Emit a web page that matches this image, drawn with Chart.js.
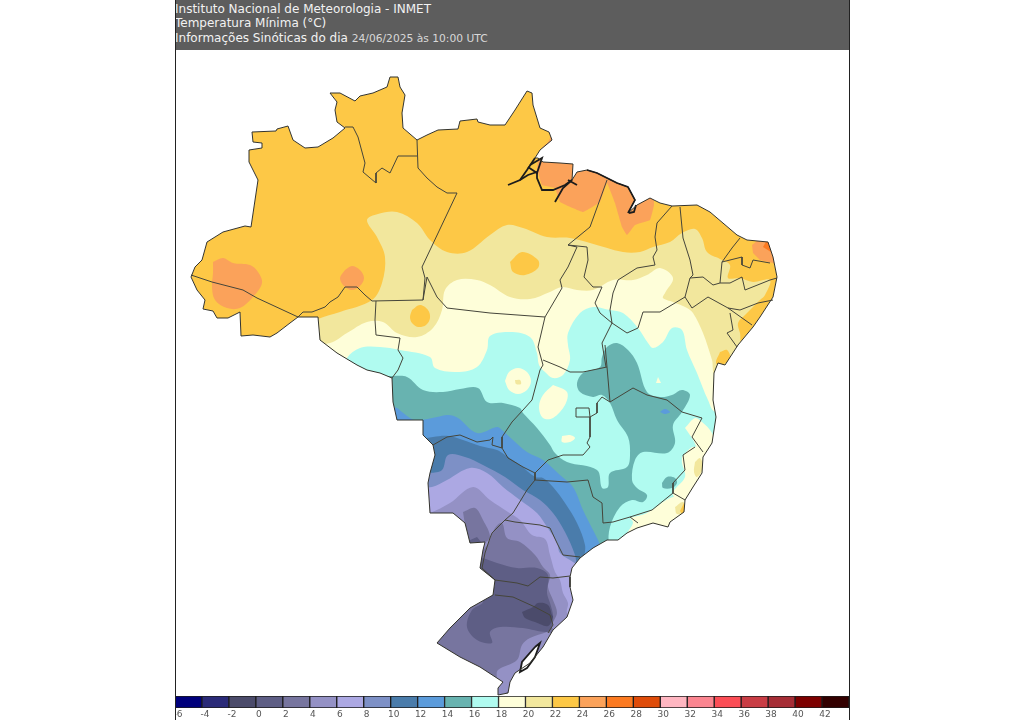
<!DOCTYPE html>
<html lang="pt"><head><meta charset="utf-8">
<script src="https://cdn.jsdelivr.net/npm/chart.js@4"></script>
<style>
html,body{margin:0;padding:0;background:#fff;width:1024px;height:720px;overflow:hidden}
#frame{position:absolute;left:175px;top:-1px;width:673px;height:720px;border:1px solid #222;box-sizing:content-box}
#head{position:absolute;left:175px;top:0;width:674px;height:50px;background:#5d5d5d;color:#f2f2f2;font:12px "DejaVu Sans",sans-serif}
#head div{position:absolute;left:0;white-space:nowrap;line-height:14px}
#head span{color:#d8d8d8;font-size:10.7px}
#map{position:absolute;left:175px;top:50px;filter:blur(.45px)}
#bar{position:absolute;left:175px;top:696px}
</style></head><body>
<div id="head">
<div style="top:2px">Instituto Nacional de Meteorologia - INMET</div>
<div style="top:16px">Temperatura Mínima (°C)</div>
<div style="top:31px">Informações Sinóticas do dia <span>24/06/2025 às 10:00 UTC</span></div>
</div>
<canvas id="map" width="674" height="646"></canvas>
<canvas id="bar" width="674" height="24"></canvas>
<div id="frame"></div>
<script>
// Scale of the colour bar
const scaleBins=[-6,-4,-2,0,2,4,6,8,10,12,14,16,18,20,22,24,26,28,30,32,34,36,38,40,42];
const scaleColors=['#00007c','#2a2a78','#4b4b6b','#5e5e85','#77759f','#9491c5','#aca8e3','#7d90c6','#4a7cab','#5b9bdb','#68b3b0','#b0fbf0','#fefed9','#f2e79d','#fdc846','#fba25a','#fc7a21','#df4c0a','#ffb6c1','#fb8590','#fc4d56','#c93d45','#a62d36','#7d0000','#330000'];
const colorOf=v=>scaleColors[scaleBins.indexOf(v)];

// Map grid coordinates (map sheet units)
const brazil=[[252,132],[276,131],[277,129],[288,126],[293,140],[305,148],[318,147],[333,138],[345,128],[337,122],[335,110],[337,102],[330,93],[340,93],[355,101],[360,96],[373,93],[387,87],[390,77],[398,77],[400,87],[405,95],[402,113],[403,128],[417,140],[427,135],[438,130],[458,129],[460,121],[477,119],[478,122],[490,125],[505,125],[515,110],[527,91],[532,93],[533,105],[540,128],[549,132],[552,140],[540,150],[535,158],[538,158],[543,162],[560,163],[573,164],[572,180],[577,172],[587,170],[597,173],[607,178],[617,183],[628,187],[635,200],[628,213],[637,205],[650,198],[660,203],[672,206],[697,205],[710,212],[737,235],[747,240],[768,242],[773,257],[777,277],[773,297],[760,317],[753,327],[738,345],[725,365],[718,363],[714,373],[713,400],[716,417],[712,443],[703,457],[702,473],[693,487],[685,500],[684,512],[670,522],[668,527],[653,523],[637,528],[627,533],[618,540],[607,540],[593,548],[580,558],[572,568],[570,577],[570,587],[573,600],[567,617],[553,630],[543,647],[530,663],[515,673],[510,682],[508,693],[498,695],[498,688],[503,682],[480,667],[460,657],[437,643],[450,628],[470,608],[493,595],[495,580],[480,568],[483,550],[485,542],[470,543],[465,523],[453,513],[430,513],[428,483],[430,473],[435,455],[433,445],[423,435],[423,420],[397,420],[393,402],[392,378],[380,373],[367,370],[357,365],[337,353],[320,340],[318,317],[298,317],[290,323],[277,333],[270,337],[253,335],[241,336],[240,312],[228,318],[217,318],[213,311],[203,309],[205,300],[197,290],[191,277],[195,267],[202,260],[207,242],[223,232],[245,226],[251,227],[258,180],[249,162],[249,150],[262,148],[262,143],[253,142]];

const band20=[[300,330],[318,319],[340,312],[372,300],[382,283],[385,257],[377,237],[367,220],[378,214],[397,212],[417,223],[430,240],[447,252],[467,252],[490,235],[507,225],[523,228],[547,237],[570,238],[590,243],[623,252],[640,252],[653,247],[670,242],[682,233],[695,229],[702,238],[707,252],[720,259],[730,265],[728,278],[740,278],[753,282],[770,280],[765,295],[760,300],[745,315],[738,323],[740,333],[743,346],[800,360],[849,400],[849,696],[175,696],[175,400],[300,400]];
const band18=[[300,345],[330,343],[347,333],[367,322],[383,322],[397,333],[417,337],[433,328],[442,310],[445,290],[457,280],[477,280],[490,285],[510,297],[530,299],[550,292],[562,287],[577,290],[593,290],[613,280],[633,280],[647,275],[660,268],[673,278],[665,293],[663,298],[673,302],[687,308],[693,313],[703,333],[712,360],[716,375],[800,380],[849,400],[849,696],[175,696],[175,400],[300,400]];
const band16=[[340,380],[347,358],[360,348],[380,347],[400,350],[430,357],[435,368],[457,372],[477,367],[487,350],[490,336],[510,332],[530,337],[537,353],[539,365],[545,372],[553,378],[563,375],[570,360],[568,345],[568,333],[580,313],[593,307],[610,310],[623,313],[638,328],[648,343],[653,348],[663,342],[672,328],[682,330],[687,350],[697,373],[708,400],[716,412],[849,420],[849,696],[175,696],[175,380]];
const band14=[[385,376],[392,376],[407,377],[423,390],[443,392],[460,389],[478,388],[487,402],[503,403],[520,408],[523,413],[537,428],[550,445],[555,453],[567,462],[597,470],[602,488],[608,487],[610,473],[627,467],[630,455],[628,437],[617,420],[610,403],[602,395],[593,397],[580,392],[577,383],[583,373],[600,367],[602,357],[607,347],[617,343],[628,350],[637,363],[647,392],[660,397],[672,395],[682,390],[690,395],[682,412],[673,425],[675,443],[667,453],[643,452],[635,460],[632,480],[637,488],[647,495],[643,502],[632,500],[620,507],[610,527],[609,545],[620,600],[620,696],[175,696],[175,376]];
const band12=[[385,405],[397,408],[402,412],[415,420],[437,417],[448,415],[458,418],[477,433],[497,427],[502,430],[513,440],[527,452],[543,460],[560,475],[573,487],[583,510],[593,530],[600,545],[615,600],[615,696],[175,696],[175,405]];
const band10=[[415,440],[433,437],[448,436],[463,440],[480,446],[497,450],[505,455],[520,465],[535,477],[543,478],[553,487],[565,503],[577,523],[585,545],[585,560],[600,600],[600,696],[175,696],[175,440]];
const band8=[[420,473],[430,473],[442,470],[448,455],[465,457],[483,465],[505,477],[523,490],[540,500],[553,513],[565,532],[575,555],[578,570],[600,600],[600,696],[175,696],[175,473]];
const band6=[[420,487],[432,487],[447,480],[470,468],[487,473],[503,487],[520,500],[537,513],[547,527],[557,543],[560,553],[573,562],[590,575],[600,600],[600,696],[175,696],[175,487]];
const band4=[[420,515],[430,513],[450,503],[473,487],[490,500],[508,512],[520,520],[532,535],[545,539],[550,555],[555,572],[560,580],[563,593],[568,603],[567,613],[575,625],[600,640],[600,696],[175,696],[175,515]];
const band2=[[470,555],[485,548],[495,528],[502,523],[507,538],[520,542],[535,555],[543,567],[550,575],[548,587],[553,600],[557,613],[552,628],[580,640],[580,696],[175,696],[175,560]];
const band0=[[483,558],[497,563],[517,568],[537,568],[548,575],[547,593],[550,603],[553,615],[552,627],[547,632],[523,628],[500,627],[490,632],[492,643],[477,640],[467,627],[472,610],[483,602],[478,590],[470,570]];
const bandM2=[[522,612],[533,607],[538,603],[548,605],[552,615],[553,617],[548,626],[535,622],[525,618]];

// Warm and cold islands
const acre24=[[213,262],[223,258],[233,263],[250,265],[258,272],[262,283],[253,297],[240,308],[227,308],[215,300],[212,287],[213,273]];
const rondonia24=[[345,270],[352,266],[360,270],[364,278],[360,286],[352,290],[344,286],[340,278]];
const northCoast24=[[537,168],[542,185],[555,188],[560,202],[583,212],[600,202],[607,183],[615,203],[622,227],[627,235],[635,225],[650,220],[654,205],[653,190],[600,140],[552,135],[548,142],[540,150]];
const natal24=[[752,245],[757,241],[780,240],[780,268],[773,263],[760,260],[753,253]];
const natal26=[[763,247],[767,240],[774,240],[771,252]];
const para22=[[510,262],[522,252],[538,260],[538,268],[525,275],[513,272]];
const rondon22=[[412,310],[420,305],[428,310],[430,318],[426,325],[418,327],[412,323],[410,317]];
const piaui22=[[682,290],[688,288],[687,295],[682,294]];
const bahia22=[[720,352],[727,350],[730,358],[722,365],[716,363]];
const goias18a=[[505,381],[509,372],[518,368],[527,372],[531,381],[527,390],[518,394],[509,390]];
const goias18b=[[553,385],[567,392],[565,405],[553,418],[543,418],[539,407],[543,395]];
const goias18c=[[562,436],[570,435],[575,438],[570,442],[562,442]];
const goias20=[[515,380],[520,380],[521,384],[516,384]];
const minas18=[[656,383],[658,377],[661,383]];
const espirito18=[[685,428],[695,418],[702,422],[712,433],[714,445],[703,456],[692,438]];
const coastMg18=[[682,457],[693,447],[706,452],[704,473],[687,503],[675,498],[673,492],[685,477],[682,463]];
const coastRj18=[[630,518],[647,513],[673,497],[690,500],[688,515],[672,530],[653,530],[637,532],[625,537],[633,523]];
const coast20a=[[695,462],[700,458],[703,468],[697,477],[694,472]];
const coast20b=[[675,507],[683,502],[688,512],[677,514]];
const coast22=[[680,511],[684,503],[688,512],[682,514]];
const triangulo14=[[662,483],[667,477],[675,478],[677,483],[672,488],[663,488]];
const minas12=[[660,412],[665,409],[670,412],[665,414]];
const paraguai2=[[463,512],[475,508],[483,520],[490,537],[483,543],[468,544],[465,525]];
const paraguai0=[[468,541],[477,537],[481,542],[470,544]];
const gaucho4=[[547,632],[530,638],[522,645],[517,660],[498,670],[497,678],[500,696],[570,640]];
const patos=[[535,647],[540,643],[535,657],[527,668],[520,672],[522,662]];

// State borders
const borders=[
[[191,275],[212,282],[243,290],[257,298],[298,317],[303,312],[312,312],[325,307],[330,302],[338,297],[345,287],[357,287],[365,295],[372,301],[423,300],[425,278],[422,267],[457,193],[447,193],[437,187],[427,178],[418,168],[417,140]],
[[417,156],[398,156],[390,173],[382,168],[376,173],[376,183],[363,172],[365,163],[358,137],[353,127],[345,127]],
[[376,301],[375,320],[376,335],[400,338],[398,350],[403,358],[398,370],[392,378]],
[[423,300],[427,277],[437,297],[447,308],[490,313],[545,317]],
[[607,180],[590,227],[568,245],[577,247],[568,267],[560,280],[562,288],[545,317],[538,347],[543,365],[540,370],[532,400],[523,410],[512,422],[502,437],[502,448],[508,458],[523,467],[535,473],[535,480],[527,490],[513,513],[505,520]],
[[568,245],[587,247],[588,260],[584,277],[593,287],[602,287],[595,303],[600,313],[612,323],[602,343],[606,367]],
[[672,206],[657,223],[655,237],[657,250],[653,257],[655,265],[637,268],[618,280],[613,293],[610,310],[612,323],[627,333],[638,328],[643,312],[660,312],[685,297],[692,308],[708,297],[728,308],[740,310],[758,303],[773,300]],
[[680,207],[683,238],[690,260],[693,275],[690,278],[685,297]],
[[740,238],[732,248],[722,262],[720,283],[713,285],[703,277],[690,278]],
[[722,262],[742,257],[742,265],[750,268],[753,260],[770,263]],
[[720,283],[730,283],[742,277],[745,290],[770,280],[777,278]],
[[728,308],[752,325]],
[[730,313],[733,330],[727,333],[737,347]],
[[543,360],[560,367],[570,372],[583,372],[607,367]],
[[605,345],[607,367],[610,402],[602,397],[597,403],[597,413],[590,417],[590,437],[587,443],[590,447],[583,455],[563,455],[548,460],[540,468],[535,473]],
[[576,408],[589,408],[590,417],[576,417],[576,408]],
[[610,402],[633,388],[647,395],[667,400],[682,412],[702,418],[692,437],[703,452]],
[[695,447],[683,455],[685,470],[673,483],[673,493],[685,500]],
[[673,493],[652,510],[630,517],[613,522],[603,523],[602,503],[593,497],[588,480],[567,482],[535,480]],
[[630,517],[638,523]],
[[433,445],[447,437],[460,435],[477,442],[490,440],[493,437],[492,445],[502,448]],
[[505,520],[515,522],[540,525],[550,528],[557,543],[563,555],[580,557]],
[[505,520],[492,533],[490,538],[485,553],[482,568]],
[[482,568],[495,580],[517,583],[528,586],[540,577],[553,578],[570,576]],
[[495,595],[513,597],[535,607],[550,615],[553,625],[548,633]]
];
const channels=[
[[535,158],[527,170],[520,180],[508,185]],
[[520,180],[528,175],[537,172],[537,178],[542,190],[553,190],[565,185],[572,180]],
[[572,180],[563,188],[555,202]],
[[568,180],[577,185]],
[[530,165],[542,158],[537,173],[528,167]],
[[636,205],[634,212],[629,213]],
[[535,647],[540,643],[535,657],[527,668],[520,672],[522,662],[535,647]]
];
const darkCoast=[[587,170],[597,173],[607,178],[617,183],[628,187],[635,200],[628,213]];

const pts=a=>a.map(([x,y])=>({x,y}));
const layers=[
[brazil,22,0],[acre24,24,1],[rondonia24,24,1],[northCoast24,24,0.2],[natal24,24,0],[natal26,26,0],[piaui22,22,1],[band20,20,1],[para22,22,1],[bahia22,22,1],
[band18,18,1],[rondon22,22,1],[band16,16,1],[goias18a,18,1],[goias18b,18,1],[goias18c,18,1],[goias20,20,1],[minas18,18,0],[espirito18,18,1],[coastMg18,18,1],[coastRj18,18,1],[coast20a,20,1],[coast20b,20,1],[coast22,22,0],
[band14,14,1],[triangulo14,14,1],[band12,12,1],[minas12,12,1],[band10,10,1],[band8,8,1],[band6,6,1],[band4,4,1],[paraguai2,2,1],[paraguai0,0,0],[band2,2,1],[gaucho4,4,1],[band0,0,1],[bandM2,-2,1]
];
const sets=[];
for(const [poly,bin,soft] of layers){
  sets.push({data:pts(soft?[...poly,poly[0]]:poly),showLine:true,pointRadius:0,borderWidth:0,fill:'shape',tension:soft?0.35*soft:0,backgroundColor:colorOf(bin)});
}
// sheet outside Brazil stays white
const sheet=[[175,50],[849,50],[849,696],[175,696],[175,50]];
const rev=[...brazil].reverse();
sets.push({data:pts([...sheet,rev[0],...rev,rev[0],[175,50]]),showLine:true,pointRadius:0,borderWidth:0,fill:'shape',backgroundColor:'#ffffff'});
sets.push({data:pts(patos),showLine:true,pointRadius:0,borderWidth:0,fill:'shape',backgroundColor:'#ffffff'});
for(const b of borders) sets.push({data:pts(b),showLine:true,pointRadius:0,borderWidth:1,borderColor:'#45453a',fill:false});
for(const b of channels) sets.push({data:pts(b),showLine:true,pointRadius:0,borderWidth:1.8,borderColor:'#1c1c1c',fill:false});
sets.push({data:pts([...brazil,brazil[0]]),showLine:true,pointRadius:0,borderWidth:1,borderColor:'#33332c',fill:false});
sets.push({data:pts(darkCoast),showLine:true,pointRadius:0,borderWidth:1.6,borderColor:'#1c1c1c',fill:false});
sets.forEach((s,i)=>{s.order=sets.length-i;});

new Chart(document.getElementById('map'),{type:'scatter',data:{datasets:sets},options:{
  responsive:false,animation:false,events:[],devicePixelRatio:1,
  layout:{padding:0},
  plugins:{legend:{display:false},tooltip:{enabled:false},title:{display:false}},
  scales:{x:{type:'linear',min:175,max:849,display:false},y:{type:'linear',min:50,max:696,reverse:true,display:false}}
}});

new Chart(document.getElementById('bar'),{type:'bar',data:{labels:scaleBins.map(String),datasets:[{data:scaleBins.map(()=>[0,1]),backgroundColor:scaleColors,borderColor:'#1c1c1c',borderWidth:1,borderSkipped:false,barPercentage:1,categoryPercentage:1}]},options:{
  responsive:false,animation:false,events:[],devicePixelRatio:1,layout:{padding:0},
  plugins:{legend:{display:false},tooltip:{enabled:false}},
  scales:{y:{min:0,max:1,display:false},x:{grid:{display:false,drawTicks:false},border:{display:false},ticks:{autoSkip:false,maxRotation:0,minRotation:0,padding:1,labelOffset:-10.5,color:'#555',font:{family:'"DejaVu Sans"',size:9}}}}
}});
</script></body></html>
